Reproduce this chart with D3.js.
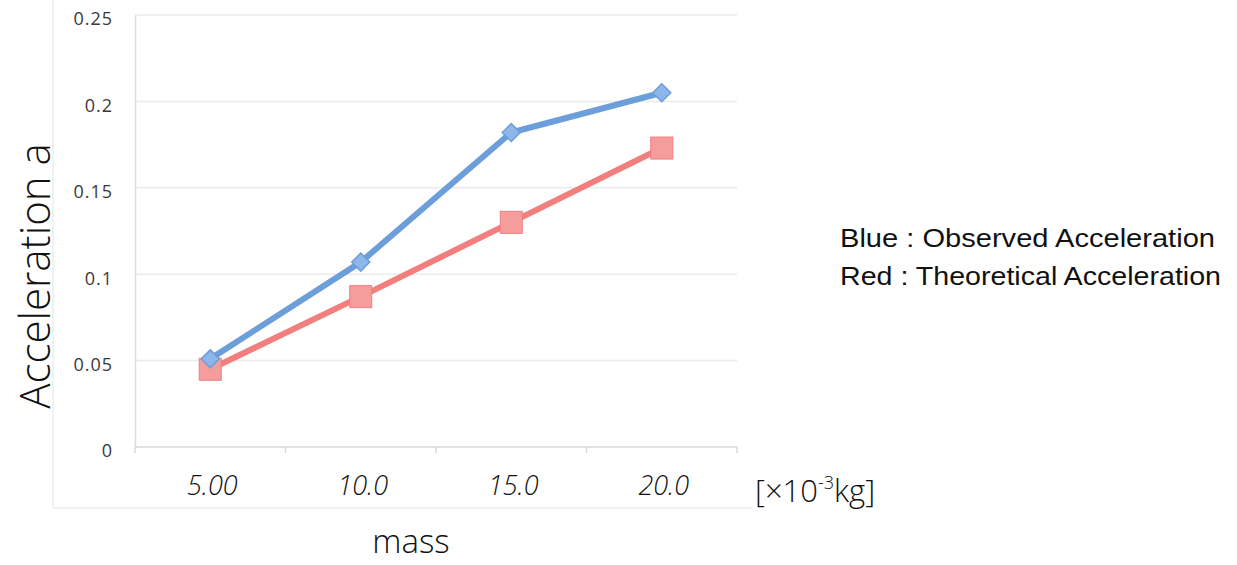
<!DOCTYPE html>
<html>
<head>
<meta charset="utf-8">
<script src="https://cdn.jsdelivr.net/npm/d3@7"></script>
<style>
  html, body { margin: 0; padding: 0; background: #fff; }
  svg { display: block; }
</style>
</head>
<body>
<svg id="chart" width="1237" height="565"></svg>
<script>
// Masses (×10^-3 kg) and measured / predicted accelerations
const massLabels = ["5.00", "10.0", "15.0", "20.0"];
const observed = [0.051, 0.107, 0.182, 0.205];
const theoretical = [0.045, 0.087, 0.130, 0.173];
const yTicks = [0, 0.05, 0.1, 0.15, 0.2, 0.25];
const yTickLabels = ["0", "0.05", "0.1", "0.15", "0.2", "0.25"];
const legendLines = ["Blue : Observed Acceleration", "Red : Theoretical Acceleration"];

const svg = d3.select("#chart");
const plot = { left: 135, right: 737, top: 15, bottom: 447 };
const hand = "'Open Sans', 'DejaVu Sans', sans-serif";

const x = d3.scaleBand().domain(massLabels).range([plot.left, plot.right]);
const y = d3.scaleLinear().domain([0, 0.25]).range([plot.bottom, plot.top]);
const cx = m => x(m) + x.bandwidth() / 2;

// Chart area frame (faint)
svg.append("line").attr("x1", 53).attr("x2", 53).attr("y1", 0).attr("y2", 508)
  .attr("stroke", "#ececec").attr("stroke-width", 1.5);
svg.append("line").attr("x1", 53).attr("x2", 752).attr("y1", 508).attr("y2", 508)
  .attr("stroke", "#ececec").attr("stroke-width", 1.5);

// Horizontal gridlines
svg.append("g").selectAll("line").data(yTicks.slice(1)).join("line")
  .attr("x1", plot.left).attr("x2", plot.right)
  .attr("y1", d => y(d)).attr("y2", d => y(d))
  .attr("stroke", "#ebebeb").attr("stroke-width", 1.5);

// Y axis
const yAxis = d3.axisLeft(y).tickValues(yTicks)
  .tickFormat((d, i) => yTickLabels[i]).tickSize(0).tickPadding(22);
const gy = svg.append("g").attr("transform", `translate(${plot.left},0)`).call(yAxis);
gy.select(".domain").attr("stroke", "#dcdcdc").attr("stroke-width", 1.5);
gy.selectAll("text")
  .attr("font-family", "'Open Sans', 'Liberation Sans', sans-serif")
  .style("font-size", "18px").style("letter-spacing", "1px")
  .attr("fill", "#3a3a3a")
  .attr("dy", "0.55em");

// X axis: line with tick marks at category boundaries
const gx = svg.append("g").attr("transform", `translate(0,${plot.bottom})`);
gx.append("line").attr("x1", plot.left).attr("x2", plot.right)
  .attr("stroke", "#d8d8d8").attr("stroke-width", 1.5);
const bounds = massLabels.map(m => x(m)).concat([plot.right]);
gx.selectAll(".tk").data(bounds).join("line").attr("class", "tk")
  .attr("x1", d => d).attr("x2", d => d).attr("y1", 0).attr("y2", 6)
  .attr("stroke", "#d8d8d8").attr("stroke-width", 1.5);

// Category labels
svg.append("g").selectAll("text").data(massLabels).join("text")
  .attr("x", d => cx(d) + 2)
  .attr("y", 495)
  .attr("text-anchor", "middle")
  .attr("font-family", hand).attr("font-style", "italic").attr("font-weight", 300)
  .attr("font-size", 27).attr("fill", "#111")
  .text(d => d);

// Unit label
const unit = svg.append("text").attr("x", 755).attr("y", 502)
  .attr("font-family", hand).attr("font-weight", 300).attr("font-size", 31).attr("fill", "#111");
unit.append("tspan").text("[×10");
unit.append("tspan").attr("dy", -13).attr("font-size", 18).text("-3");
unit.append("tspan").attr("dy", 13).text("kg]");

// Axis titles
svg.append("text").attr("x", 411).attr("y", 553).attr("text-anchor", "middle")
  .attr("font-family", hand).attr("font-weight", 300).attr("font-size", 33).attr("fill", "#111")
  .text("mass");
svg.append("text")
  .attr("transform", "translate(50,276) rotate(-90)")
  .attr("text-anchor", "middle")
  .attr("font-family", hand).attr("font-weight", 300).attr("font-size", 42).attr("fill", "#111")
  .text("Acceleration a");

// Series
const series = [
  { values: theoretical, stroke: "#f27e7e", fill: "#f59d9d", marker: "square", size: 22 },
  { values: observed, stroke: "#6c9ed9", fill: "#8db7ea", marker: "diamond", size: 18 }
];
const line = d3.line().x((d, i) => cx(massLabels[i])).y(d => y(d));

series.forEach(s => {
  svg.append("path").datum(s.values).attr("d", line)
    .attr("fill", "none").attr("stroke", s.stroke).attr("stroke-width", 6)
    .attr("stroke-linejoin", "round");
});
series.forEach(s => {
  const g = svg.append("g");
  s.values.forEach((v, i) => {
    const px = cx(massLabels[i]), py = y(v), h = s.size / 2;
    if (s.marker === "square") {
      g.append("rect").attr("x", px - h).attr("y", py - h).attr("width", s.size).attr("height", s.size)
        .attr("fill", s.fill).attr("stroke", s.stroke).attr("stroke-width", 1);
    } else {
      g.append("path").attr("d", `M${px},${py - h}L${px + h},${py}L${px},${py + h}L${px - h},${py}Z`)
        .attr("fill", s.fill).attr("stroke", s.stroke).attr("stroke-width", 1.5);
    }
  });
});

// Legend note
const legendWidths = [375, 381];
svg.append("g").selectAll("text").data(legendLines).join("text")
  .attr("x", 840).attr("y", (d, i) => 247 + i * 38)
  .attr("font-family", "'Liberation Sans', Arial, sans-serif")
  .attr("font-size", 26).attr("fill", "#111")
  .attr("textLength", (d, i) => legendWidths[i]).attr("lengthAdjust", "spacingAndGlyphs")
  .text(d => d);
</script>
</body>
</html>
